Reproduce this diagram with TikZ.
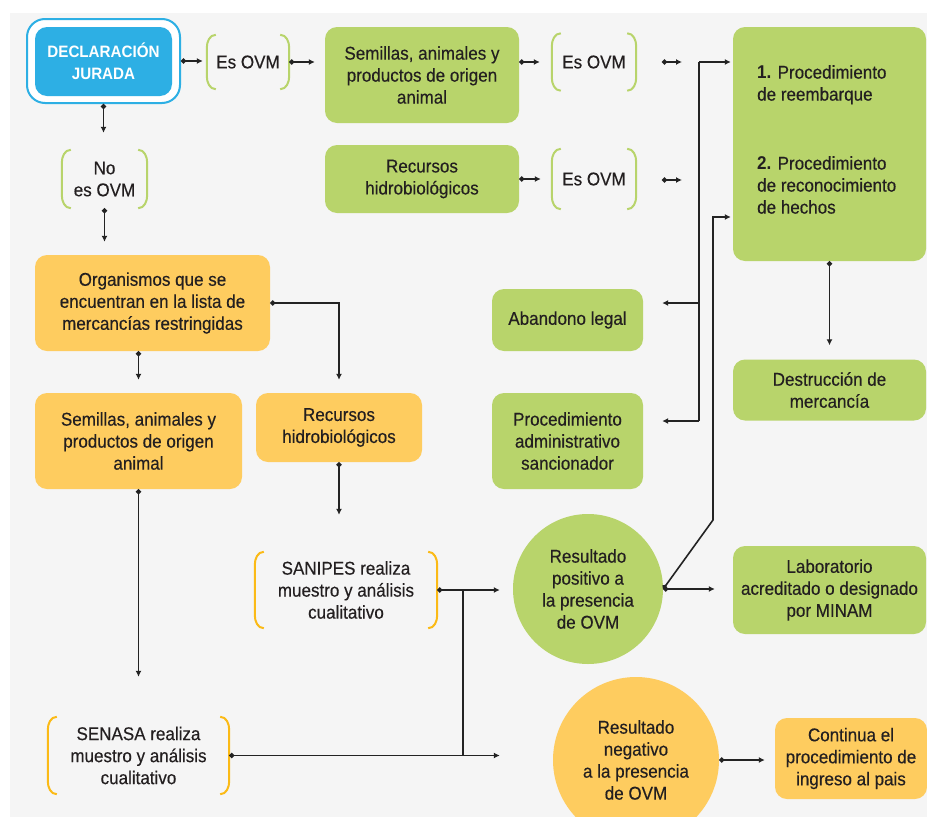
\documentclass[tikz,border=0pt]{standalone}
\usepackage{fontspec}
\setmainfont{Liberation Sans}[FakeStretch=0.92, UprightFeatures={FakeBold=0.35}]
\usetikzlibrary{arrows.meta,shapes.geometric}
\definecolor{cgreen}{RGB}{184,212,107}
\definecolor{cyellow}{RGB}{254,204,95}
\definecolor{cblue}{RGB}{45,175,228}
\definecolor{cbry}{RGB}{251,186,22}
\definecolor{cbg}{RGB}{245,245,245}
\definecolor{cline}{RGB}{35,35,35}
\definecolor{ctext}{RGB}{35,31,32}
\newcommand\bracketsof[2]{%
 \draw[#2, line width=2pt] ([xshift=9pt]#1.north west) to[out=180,in=90] ([yshift=-13pt]#1.north west) -- ([yshift=13pt]#1.south west) to[out=-90,in=180] ([xshift=9pt]#1.south west);
 \draw[#2, line width=2pt] ([xshift=-9pt]#1.north east) to[out=0,in=90] ([yshift=-13pt]#1.north east) -- ([yshift=13pt]#1.south east) to[out=-90,in=0] ([xshift=-9pt]#1.south east);}
\tikzset{
 txt/.style={text=ctext, align=center, inner sep=0pt, font=\fontsize{18.5}{22}\selectfont},
 gbox/.style={txt, fill=cgreen, rounded corners=12pt},
 ybox/.style={txt, fill=cyellow, rounded corners=12pt},
 brbox/.style={txt},
 circ/.style={txt, circle},
 ln/.style={draw=cline, line width=1.6pt},
 conn/.style={ln, {Circle[length=5pt]}-{Latex[length=6pt,width=6pt]}},
 arr/.style={ln, -{Latex[length=6pt,width=6pt]}},
}
\begin{document}
\begin{tikzpicture}[x=1pt,y=-1pt]
\useasboundingbox (0,0) rectangle (927,817);
\fill[white] (0,0) rectangle (927,817);
\fill[cbg] (10,13) rectangle (927,817);

% Declaracion jurada
\node[draw=cblue, line width=2pt, fill=white, rounded corners=18pt, minimum width=153pt, minimum height=84pt, inner sep=0pt] (dj) at (103.5,61) {};
\node[fill=cblue, rounded corners=12pt, minimum width=137pt, minimum height=69pt, text=white, align=center, inner sep=0pt, font=\fontsize{16.5}{22}\selectfont\bfseries] (djin) at (103.5,61.5) {DECLARACIÓN\\JURADA};

% top row
\node[brbox, minimum width=82pt, minimum height=54pt] (es1) at (248,62) {Es OVM};
\node[gbox, minimum width=194pt, minimum height=96pt] (sem1) at (422,75) {Semillas, animales y\\productos de origen\\animal};
\node[brbox, minimum width=84pt, minimum height=57pt] (es2) at (594,62) {Es OVM};
\node[gbox, minimum width=194pt, minimum height=68pt] (rec1) at (422,179) {Recursos\\hidrobiológicos};
\node[brbox, minimum width=84pt, minimum height=60pt] (es3) at (594,179) {Es OVM};

% right column
\node[gbox, minimum width=193pt, minimum height=234pt] (big) at (829.5,144) {};
\node[txt, align=left, anchor=north west] (bigtxt) at (757,65) {\textbf{1.} Procedimiento\\de reembarque\\[47pt]\textbf{2.} Procedimiento\\de reconocimiento\\de hechos};
\node[gbox, minimum width=193pt, minimum height=61pt] (dest) at (829.5,390) {Destrucción de\\mercancía};
\node[gbox, minimum width=151pt, minimum height=62pt] (aban) at (567.5,320) {Abandono legal};
\node[gbox, minimum width=151pt, minimum height=96pt] (proc) at (567.5,441) {Procedimiento\\administrativo\\sancionador};
\node[circ, fill=cgreen, minimum size=150pt] (pos) at (588,589) {Resultado\\positivo a\\la presencia\\de OVM};
\node[gbox, minimum width=193pt, minimum height=88pt] (lab) at (829.5,590) {Laboratorio\\acreditado o designado\\por MINAM};

% left column
\node[brbox, minimum width=85pt, minimum height=58pt] (noes) at (104.5,179) {No\\es OVM};
\node[ybox, minimum width=235pt, minimum height=96pt] (org) at (152.5,303) {Organismos que se\\encuentran en la lista de\\mercancías restringidas};
\node[ybox, minimum width=207pt, minimum height=96pt] (semy) at (138.5,441) {Semillas, animales y\\productos de origen\\animal};
\node[ybox, minimum width=166pt, minimum height=69pt] (recy) at (339,427.5) {Recursos\\hidrobiológicos};
\node[brbox, minimum width=182pt, minimum height=76pt] (sanipes) at (346,590) {SANIPES realiza\\muestro y análisis\\cualitativo};
\node[brbox, minimum width=181pt, minimum height=77pt] (senasa) at (138.5,755.5) {SENASA realiza\\muestro y análisis\\cualitativo};
\node[circ, fill=cyellow, minimum size=166pt] (neg) at (636,760) {Resultado\\negativo\\a la presencia\\de OVM};
\node[ybox, minimum width=152pt, minimum height=81pt] (cont) at (851,758.5) {Continua el\\procedimiento de\\ingreso al pais};

% brackets
\bracketsof{es1}{cgreen}
\bracketsof{es2}{cgreen}
\bracketsof{es3}{cgreen}
\bracketsof{noes}{cgreen}
\bracketsof{sanipes}{cbry}
\bracketsof{senasa}{cbry}

% connectors
\draw[conn, shorten >=4pt] (dj.east) -- (dj.east -| es1.west);
\draw[conn, shorten >=10pt] (es1.east) -- (es1.east -| sem1.west);
\draw[conn, shorten >=12pt] (sem1.east |- es2.west) -- (es2.west);
\draw[conn, shorten >=11pt] (rec1.east |- es3.west) -- (es3.west);
\coordinate (m1a) at (662,62);
\coordinate (m1b) at (682,62);
\coordinate (m2a) at (662,180);
\coordinate (m2b) at (682,180);
\draw[conn] (m1a) -- (m1b);
\draw[conn] (m2a) -- (m2b);

\coordinate (b1t) at (699,62);
\coordinate (b1a) at (699,303);
\coordinate (b1b) at (699,421);
\draw[ln] (b1b) -- (b1t);
\draw[arr, shorten >=2pt] (b1t) -- (big.west |- b1t);
\draw[arr, shorten >=19pt] (b1a) -- (aban.east |- b1a);
\draw[arr, shorten >=19pt] (b1b) -- (proc.east |- b1b);

\coordinate (b2k) at (713,520);
\coordinate (b2t) at (713,217);
\draw[conn, shorten >=2pt] (pos.east) -- (b2k) -- (b2t) -- (big.west |- b2t);
\draw[conn, shorten >=18pt] (pos.east) -- (pos.east -| lab.west);
\draw[conn, shorten >=14pt] (big.south) -- (dest.north);

\draw[conn, shorten >=17pt] (dj.south) -- (dj.south |- noes.north);
\draw[conn, shorten >=13pt] (noes.south) -- (noes.south |- org.north);
\draw[conn, shorten >=13pt] (semy.north |- org.south) -- (semy.north);
\draw[conn, shorten >=13pt] (org.east) -| (recy.north);
\draw[conn, shorten >=40pt] (semy.south) -- (senasa.north);
\draw[conn, shorten >=37pt] (recy.south) -- (recy.south |- sanipes.north);
\draw[conn, shorten >=13pt] (sanipes.east) -- (sanipes.east -| pos.west);
\draw[conn, shorten >=13pt] (senasa.east) -- (senasa.east -| pos.west);
\coordinate (j1) at (463,590);
\coordinate (j2) at (463,755.5);
\draw[ln] (j1) -- (j2);
\draw[conn, shorten >=10pt] (neg.east) -- (neg.east -| cont.west);
\end{tikzpicture}
\end{document}
